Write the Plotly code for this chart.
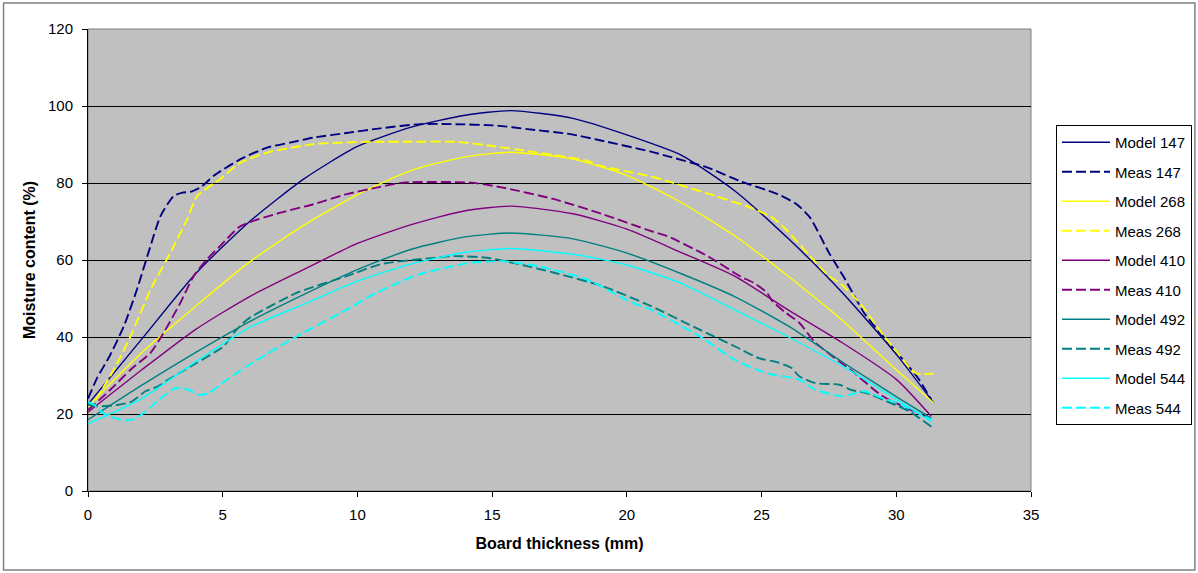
import plotly.graph_objects as go

# ---------------- data ----------------
model147_x = [0, 2, 4, 6, 8, 10, 12, 14, 15.7, 18, 20, 22, 24, 26, 28, 30, 31.4]
model147_y = [22.5, 39.5, 56.5, 70, 81, 89.5, 94.5, 97.6, 98.8, 96.8, 92.5, 87.3, 78, 65.5, 51.5, 35.5, 22.8]

meas147_x = [0, 0.34, 0.8, 1.33, 1.8, 2.26, 2.69, 3.18, 3.5, 3.8, 4.2, 4.67, 5.66, 6.65, 7.5, 8.38, 9.6,
             10.85, 12.33, 13.5, 15.2, 16.3, 17.9, 19.0, 20.86, 21.5, 23, 24.2, 25.6, 26.3, 26.8, 27.5,
             28.1, 28.8, 29.5, 30.76, 31.3]
meas147_y = [24, 29.4, 35, 42.8, 52, 62.3, 71.4, 76.6, 77.5, 77.7, 79, 81.9, 86.2, 89.2, 90.5, 91.8, 93,
             94.2, 95.3, 95.3, 94.9, 94, 92.7, 91.1, 88.2, 87, 84, 80.5, 77.1, 74.5, 71, 61.9,
             55, 46.3, 40.2, 29.8, 23.7]

model268_x = [0, 2, 4, 6, 8, 10, 12, 14, 15.7, 18, 20, 22, 24, 26, 28, 30, 31.4]
model268_y = [22, 36, 48, 59.5, 69, 77, 83.3, 86.8, 88, 86.2, 82, 75, 66.3, 55.7, 44.3, 31.5, 22.8]

meas268_x = [0, 0.96, 1.58, 2.32, 3.06, 3.68, 4.05, 4.9, 5.66, 6.65, 8.38, 10.5, 12, 13.7, 14.8, 16.7,
             18.5, 19.0, 20.9, 21.5, 23.3, 24.6, 25.4, 25.9, 26.8, 27.5, 27.9, 28.7, 29.5, 30.0, 30.5,
             30.75, 31.4]
meas268_y = [20.5, 31.5, 40.2, 52.3, 61.9, 70.6, 76.6, 81, 85.3, 87.9, 90.1, 90.7, 90.7, 90.7, 89.8, 87.9,
             85.8, 84.5, 81.7, 80.5, 76.6, 73.6, 71, 68, 61, 55.8, 54.1, 48.4, 40.6, 36.3, 32,
             30.5, 30.5]

model410_x = [0, 2, 4, 6, 8, 10, 12, 14, 15.7, 18, 20, 22, 24, 26, 28, 30, 31.3]
model410_y = [20.5, 31.5, 42, 50.5, 57.5, 64.3, 69.2, 72.8, 74, 72, 68, 62, 55.8, 47, 38.5, 29, 19.4]

meas410_x = [0, 0.83, 1.58, 2.32, 2.8, 3.43, 3.92, 4.42, 4.9, 5.66, 7.14, 8.38, 9.6, 10.85, 11.7, 14.2,
             15.4, 17.3, 19.1, 20.9, 21.5, 23.0, 24.2, 24.7, 25.2, 25.4, 25.9, 26.4, 27.0, 28.3, 29.5, 31.25]
meas410_y = [21, 26.3, 31.5, 35.9, 41, 48.9, 55.8, 60.2, 63.6, 68.8, 72.3, 74.5, 77.1, 79, 80.1, 80.1,
             78.8, 75.8, 71.9, 67.5, 66.2, 61, 55.8, 54.1, 51.5, 49.3, 46.3, 43.7, 38.5, 31.5, 24.6, 18.9]

model492_x = [0, 2, 4, 6, 8, 10, 12, 14, 15.7, 18, 20, 22, 24, 26, 28, 30, 31.3]
model492_y = [18.5, 27.5, 36, 44, 51, 57.5, 62.8, 66, 67, 65.5, 61.8, 56.5, 50.5, 42.8, 33.5, 24.5, 18.9]

meas492_x = [0, 0.34, 1.14, 1.64, 2.13, 2.6, 3.18, 4.05, 4.67, 5.04, 5.4, 5.9, 7.76, 9.6, 10.85, 12.3,
             13.6, 14.8, 16.0, 17.3, 19.1, 20.9, 22.7, 24.0, 24.9, 25.6, 26.1, 26.4, 27.0, 27.9, 28.3,
             28.9, 29.8, 30.5, 31.3]
meas492_y = [22.4, 22, 22.4, 23.3, 25.9, 27.2, 29.8, 33.3, 35.9, 37.6, 41, 44.5, 51.5, 55.8, 58.9, 60.2,
             61, 60.6, 58.9, 56.7, 53.2, 48, 41.9, 37.6, 34.5, 33.4, 32, 29.8, 28, 27.6, 26.3,
             25.4, 22.8, 20.6, 16.7]

model544_x = [0, 2, 4, 6, 8, 10, 12, 14, 15.7, 18, 20, 22, 24, 26, 28, 30, 31.3]
model544_y = [17.5, 24, 33.6, 42.5, 48.5, 54.5, 59, 62, 63, 61.5, 58.7, 54, 47.1, 40, 32.5, 23.8, 18]

meas544_x = [0, 0.15, 0.65, 1.4, 1.76, 2.13, 2.63, 3.25, 3.74, 4.1, 4.48, 4.98, 5.9, 7.76, 9.6, 10.7,
             12.3, 14.2, 15.4, 16.7, 18.5, 20.2, 20.9, 22.7, 24.0, 25.2, 26.4, 27.0, 28.0, 28.8, 29.3,
             30.2, 31.3]
meas544_y = [23, 22.8, 19.8, 18.3, 18.9, 20.6, 23.7, 26.7, 26.3, 25, 25.4, 28, 32.4, 40.2, 47.1, 51.5,
             56.3, 59.3, 59.7, 58.4, 55, 48.9, 47.1, 40.2, 34.1, 30.6, 28.9, 26.3, 24.6, 25.9, 24.6,
             22.4, 18.5]

x_ticks = [0, 5, 10, 15, 20, 25, 30, 35]
y_ticks = [0, 20, 40, 60, 80, 100, 120]

series = [
    ("Model 147", model147_x, model147_y, "#000080", "solid"),
    ("Meas 147", meas147_x, meas147_y, "#000080", "dash"),
    ("Model 268", model268_x, model268_y, "#FFFF00", "solid"),
    ("Meas 268", meas268_x, meas268_y, "#FFFF00", "dash"),
    ("Model 410", model410_x, model410_y, "#800080", "solid"),
    ("Meas 410", meas410_x, meas410_y, "#800080", "dash"),
    ("Model 492", model492_x, model492_y, "#008080", "solid"),
    ("Meas 492", meas492_x, meas492_y, "#008080", "dash"),
    ("Model 544", model544_x, model544_y, "#00FFFF", "solid"),
    ("Meas 544", meas544_x, meas544_y, "#00FFFF", "dash"),
]

FONT = "Liberation Sans, Arial, sans-serif"

fig = go.Figure()
for name, xs, ys, col, style in series:
    dash = "solid" if style == "solid" else "10px,4px"
    width = 1.4 if style == "solid" else 1.9
    fig.add_trace(go.Scatter(
        x=xs, y=ys, name=name, mode="lines", legendgroup=name,
        line=dict(color=col, width=width, dash=dash, shape="spline", smoothing=0.6),
    ))

# plot-area geometry
L, R, T, B = 87.5, 167, 29, 82
W, H = 1198, 573
pw, ph = W - L - R, H - T - B

fig.update_layout(
    width=W, height=H,
    margin=dict(l=L, r=R, t=T, b=B, pad=0, autoexpand=False),
    paper_bgcolor="white",
    plot_bgcolor="#C0C0C0",
    font=dict(family=FONT, size=15, color="black"),
    showlegend=True,
    legend=dict(
        x=(1056 - L) / pw, y=(H - B - 125) / ph, xanchor="left", yanchor="top",
        bordercolor="black", borderwidth=1, bgcolor="white",
        font=dict(family=FONT, size=15, color="black"),
        traceorder="grouped", tracegroupgap=7, itemwidth=48,
    ),
    xaxis=dict(
        range=[0, 35], tickvals=x_ticks, ticktext=[str(v) for v in x_ticks],
        showgrid=False, zeroline=False,
        showline=True, linecolor="black", linewidth=1,
        ticks="outside", ticklen=5, tickcolor="black", ticklabelstandoff=5,
        tickfont=dict(family=FONT, size=15),
        title=dict(text="<b>Board thickness (mm)</b>", standoff=15,
                   font=dict(family=FONT, size=16)),
    ),
    yaxis=dict(
        range=[0, 120], tickvals=y_ticks, ticktext=[str(v) for v in y_ticks],
        showgrid=True, gridcolor="black", gridwidth=1, zeroline=False,
        showline=True, linecolor="black", linewidth=1,
        ticks="outside", ticklen=5, tickcolor="black", ticklabelstandoff=6,
        tickfont=dict(family=FONT, size=15),
        title=dict(text="<b>Moisture content (%)</b>", standoff=8,
                   font=dict(family=FONT, size=16)),
    ),
    shapes=[
        # outer chart border
        dict(type="rect", xref="paper", yref="paper",
             x0=(3 - L) / pw, x1=(1195 - L) / pw,
             y0=(H - B - 570) / ph, y1=(H - B - 3) / ph,
             line=dict(color="#808080", width=1.5), fillcolor="rgba(0,0,0,0)", layer="below"),
        # plot-area frame (top/right grey)
        dict(type="rect", xref="paper", yref="paper", x0=0, x1=1, y0=0, y1=1,
             line=dict(color="#808080", width=1), fillcolor="rgba(0,0,0,0)", layer="below"),
    ],
)

fig.write_html("out.html", config={"displayModeBar": False},
               post_script="document.body.style.margin='0px';document.body.style.overflow='hidden';")
